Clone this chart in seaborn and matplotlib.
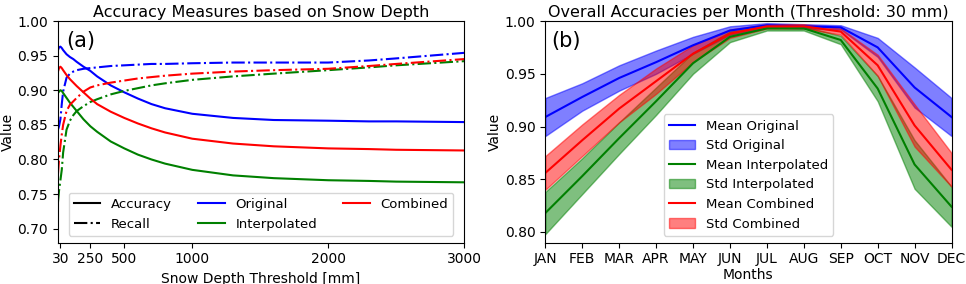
import pandas as pd
import matplotlib.pyplot as plt
import seaborn as sns
from matplotlib.lines import Line2D

# --- data: panel (a), values read at these thresholds [mm]
thresholds = [12, 20, 30, 40, 50, 75, 100, 125, 150, 200, 250, 300, 400, 500,
              600, 700, 800, 1000, 1300, 1600, 2000, 2300, 2500, 3000]

acc_original = [0.958, 0.962, 0.963, 0.961, 0.958, 0.952, 0.948, 0.945, 0.941, 0.934,
                0.928, 0.920, 0.907, 0.897, 0.888, 0.880, 0.874, 0.866, 0.860, 0.857,
                0.856, 0.855, 0.855, 0.854]
acc_interpolated = [0.896, 0.898, 0.900, 0.899, 0.896, 0.889, 0.882, 0.876, 0.870, 0.858,
                    0.848, 0.840, 0.826, 0.816, 0.807, 0.800, 0.794, 0.785, 0.777, 0.773,
                    0.770, 0.769, 0.768, 0.767]
acc_combined = [0.927, 0.932, 0.934, 0.932, 0.929, 0.922, 0.916, 0.911, 0.906, 0.897,
                0.888, 0.880, 0.869, 0.860, 0.852, 0.845, 0.839, 0.830, 0.823, 0.819,
                0.816, 0.815, 0.814, 0.813]

rec_original = [0.843, 0.848, 0.858, 0.880, 0.898, 0.918, 0.924, 0.927, 0.929, 0.931,
                0.932, 0.933, 0.935, 0.936, 0.937, 0.938, 0.938, 0.939, 0.940, 0.940,
                0.940, 0.943, 0.946, 0.954]
rec_interpolated = [0.738, 0.755, 0.770, 0.785, 0.810, 0.843, 0.856, 0.864, 0.870, 0.877,
                    0.883, 0.887, 0.894, 0.899, 0.903, 0.907, 0.910, 0.915, 0.920, 0.924,
                    0.929, 0.933, 0.936, 0.942]
rec_combined = [0.779, 0.800, 0.820, 0.836, 0.850, 0.870, 0.879, 0.884, 0.889, 0.898,
                0.904, 0.907, 0.911, 0.914, 0.917, 0.919, 0.921, 0.924, 0.927, 0.929,
                0.931, 0.935, 0.938, 0.945]

# --- data: panel (b), monthly mean and std
months = ['JAN', 'FEB', 'MAR', 'APR', 'MAY', 'JUN', 'JUL', 'AUG', 'SEP', 'OCT', 'NOV', 'DEC']
mean_original = [0.909, 0.928, 0.946, 0.961, 0.977, 0.991, 0.996, 0.995, 0.994, 0.975, 0.937, 0.909]
std_original = [0.018, 0.013, 0.012, 0.011, 0.008, 0.004, 0.002, 0.002, 0.002, 0.009, 0.019, 0.018]
mean_interpolated = [0.818, 0.853, 0.889, 0.924, 0.960, 0.985, 0.993, 0.993, 0.982, 0.936, 0.864, 0.824]
std_interpolated = [0.020, 0.017, 0.015, 0.013, 0.010, 0.005, 0.002, 0.002, 0.004, 0.012, 0.023, 0.019]
mean_combined = [0.856, 0.887, 0.917, 0.943, 0.969, 0.988, 0.995, 0.995, 0.990, 0.958, 0.901, 0.859]
std_combined = [0.016, 0.015, 0.013, 0.012, 0.008, 0.004, 0.002, 0.002, 0.003, 0.010, 0.020, 0.016]

colors = {'Original': 'blue', 'Interpolated': 'green', 'Combined': 'red'}

fig, (ax1, ax2) = plt.subplots(1, 2, figsize=(9.66, 2.84), dpi=100)
fig.subplots_adjust(left=0.060, right=0.985, bottom=0.146, top=0.926, wspace=0.20)

# (a) accuracy / recall over snow depth threshold
acc = {'Original': acc_original, 'Interpolated': acc_interpolated, 'Combined': acc_combined}
rec = {'Original': rec_original, 'Interpolated': rec_interpolated, 'Combined': rec_combined}
for name in ['Original', 'Interpolated', 'Combined']:
    sns.lineplot(x=thresholds, y=acc[name], color=colors[name], linestyle='-', ax=ax1)
    sns.lineplot(x=thresholds, y=rec[name], color=colors[name], linestyle='-.', ax=ax1)

ax1.set_xlim(12, 3000)
ax1.set_ylim(0.68, 1.0)
ax1.set_xticks([30, 250, 500, 1000, 2000, 3000])
ax1.set_title("Accuracy Measures based on Snow Depth", fontsize=11.5, pad=3)
ax1.set_xlabel("Snow Depth Threshold [mm]")
ax1.set_ylabel("Value", labelpad=2)
ax1.text(0.02, 0.955, "(a)", transform=ax1.transAxes, fontsize=15, va='top', ha='left')

handles = [
    Line2D([], [], color='black', linestyle='-', label='Accuracy'),
    Line2D([], [], color='black', linestyle='-.', label='Recall'),
    Line2D([], [], color='blue', label='Original'),
    Line2D([], [], color='green', label='Interpolated'),
    Line2D([], [], color='red', label='Combined'),
]
ax1.legend(handles=handles, ncol=3, loc='lower center', fontsize=9.5)

# (b) monthly accuracies with std bands
x = list(range(len(months)))
means = {'Original': mean_original, 'Interpolated': mean_interpolated, 'Combined': mean_combined}
stds = {'Original': std_original, 'Interpolated': std_interpolated, 'Combined': std_combined}
for name in ['Original', 'Interpolated', 'Combined']:
    m = pd.Series(means[name])
    s = pd.Series(stds[name])
    sns.lineplot(x=x, y=m, color=colors[name], label=f"Mean {name}", ax=ax2)
    ax2.fill_between(x, m - s, m + s, color=colors[name], alpha=0.5, label=f"Std {name}")

ax2.set_xlim(0, 11)
ax2.set_ylim(0.79, 1.0)
ax2.set_xticks(x)
ax2.set_xticklabels(months)
ax2.set_title("Overall Accuracies per Month (Threshold: 30 mm)", fontsize=11.5, pad=3)
ax2.set_xlabel("Months", labelpad=1)
ax2.set_ylabel("Value", labelpad=2)
ax2.text(0.015, 0.955, "(b)", transform=ax2.transAxes, fontsize=15, va='top', ha='left')
ax2.legend(loc='lower center', fontsize=9.5)

fig.savefig("out.png", dpi=100)
